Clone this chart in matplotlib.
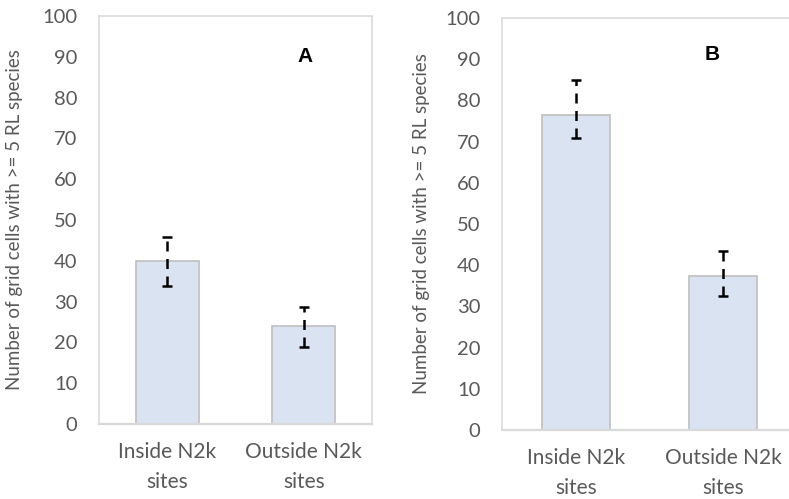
import numpy as np
import matplotlib.pyplot as plt

# data
categories = ['Inside N2k\nsites', 'Outside N2k\nsites']
values_A = [40.0, 24.0]
err_lo_A = [6.1, 5.1]
err_hi_A = [5.8, 4.7]
values_B = [76.5, 37.4]
err_lo_B = [5.6, 4.8]
err_hi_B = [8.5, 6.0]
yticks = np.arange(0, 101, 10)
ylab = 'Number of grid cells with >= 5 RL species'

plt.rcParams['font.family'] = ['Lato', 'DejaVu Sans']

W, H = 789, 499
fig = plt.figure(figsize=(W / 100, H / 100), dpi=100)

bar_col = '#dae3f1'
edge_col = '#bfbfbf'
frame_col = '#d9d9d9'
text_col = '#595959'


def panel(rect, vals, lo, hi, letter, letter_xy):
    ax = fig.add_axes(rect)
    x = np.arange(len(categories))
    ax.bar(x, vals, width=0.46, color=bar_col, edgecolor=edge_col, linewidth=1.2, zorder=2)
    eb = ax.errorbar(x, vals, yerr=[lo, hi], fmt='none', ecolor='black',
                     elinewidth=1.8, capsize=3.8, capthick=1.8, zorder=3)
    eb[2][0].set_linestyle((0, (4.0, 3.0)))
    ax.set_xlim(-0.5, 1.5)
    ax.set_ylim(0, 100)
    ax.set_yticks(yticks)
    ax.set_xticks(x)
    ax.set_xticklabels(categories, linespacing=1.6)
    ax.tick_params(axis='y', length=0, pad=15.5, labelsize=14.5, labelcolor=text_col)
    ax.tick_params(axis='x', length=0, pad=13, labelsize=15, labelcolor=text_col)
    for s in ['top', 'left', 'right']:
        ax.spines[s].set_color(frame_col)
        ax.spines[s].set_linewidth(1.1)
    ax.spines['bottom'].set_color(frame_col)
    ax.spines['bottom'].set_linewidth(1.6)
    ax.set_ylabel(ylab, fontsize=13.5, color=text_col)
    fig.text(letter_xy[0] / W, 1 - letter_xy[1] / H, letter, fontsize=15,
             fontweight='bold', family='Liberation Sans', ha='center', va='center')
    return ax


axA = panel([99 / W, (H - 424) / H, 273 / W, 408 / H], values_A, err_lo_A, err_hi_A, 'A', (305, 56))
axA.yaxis.set_label_coords((23 - 99) / 273, 0.5)

axB = panel([502 / W, (H - 430) / H, 295 / W, 412 / H], values_B, err_lo_B, err_hi_B, 'B', (712, 55))
axB.yaxis.set_label_coords((430 - 502) / 295, 0.5)

plt.savefig('out.png', dpi=100)
